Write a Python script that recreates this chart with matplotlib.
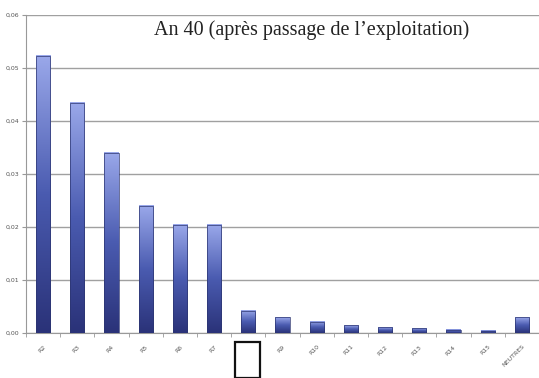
import matplotlib
matplotlib.use("Agg")
import matplotlib.pyplot as plt
import numpy as np
from matplotlib.colors import LinearSegmentedColormap
from matplotlib.patches import Rectangle

categories = ["R2", "R3", "R4", "R5", "R6", "R7", "R8", "R9", "R10",
              "R11", "R12", "R13", "R14", "R15", "NEUTRES"]
values = [0.0523, 0.0434, 0.0340, 0.0240, 0.0204, 0.0204, 0.0042, 0.0030,
          0.0021, 0.0015, 0.0011, 0.0009, 0.0006, 0.0004, 0.0030]
hidden_label = "R8"
yticks = [0.00, 0.01, 0.02, 0.03, 0.04, 0.05, 0.06]
title = "An 40 (après passage de l\u2019exploitation)"

fig = plt.figure(figsize=(5.39, 3.78), dpi=100)
ax = fig.add_axes([26 / 539, 1 - 333 / 378, 513 / 539, 318 / 378])

grad = LinearSegmentedColormap.from_list("bar", ["#2a3278", "#4a5bb0", "#9aa8ea"])
gimg = np.linspace(0, 1, 256).reshape(-1, 1)
width = 0.41
x = np.arange(len(categories))
for xi, v in zip(x, values):
    ax.imshow(gimg, cmap=grad, origin="lower", aspect="auto",
              extent=(xi - width / 2, xi + width / 2, 0, v), zorder=3)
    ax.add_patch(Rectangle((xi - width / 2, 0), width, v, fill=False,
                           edgecolor="#2c3570", linewidth=0.5, zorder=4))

ax.set_xlim(-0.5, len(categories) - 0.5)
ax.set_ylim(0, 0.06)
ax.set_yticks(yticks)
ax.set_yticklabels([f"{t:.2f}".replace(".", ",") for t in yticks],
                   fontsize=4.5, color="#555555")
ax.yaxis.grid(True, color="#a0a0a0", linewidth=1.0, zorder=0)
ax.set_axisbelow(True)

ax.set_xticks(x)
ax.set_xticklabels(["" if c == hidden_label else c for c in categories],
                   rotation=45, ha="right", rotation_mode="anchor",
                   fontsize=4.5, color="#555555")
ax.set_xticks(np.arange(-0.5, len(categories), 1), minor=True)
ax.tick_params(axis="x", which="major", length=0, pad=8)
ax.tick_params(axis="x", which="minor", length=3, color="#999999")
ax.tick_params(axis="y", length=3, color="#999999", pad=2)

for s in ["top", "right"]:
    ax.spines[s].set_visible(False)
ax.spines["left"].set_color("#999999")
ax.spines["bottom"].set_color("#999999")

ax.text(0.557, 0.985, title, transform=ax.transAxes, ha="center", va="top",
        family="Liberation Serif", fontsize=14.5, color="#222222")

# outlined box under the R8 position
fig.add_artist(Rectangle((235 / 539, 0), 25 / 539, 36 / 378, fill=False,
                         edgecolor="#111111", linewidth=1.6,
                         transform=fig.transFigure))

fig.savefig("out.png", dpi=100)
